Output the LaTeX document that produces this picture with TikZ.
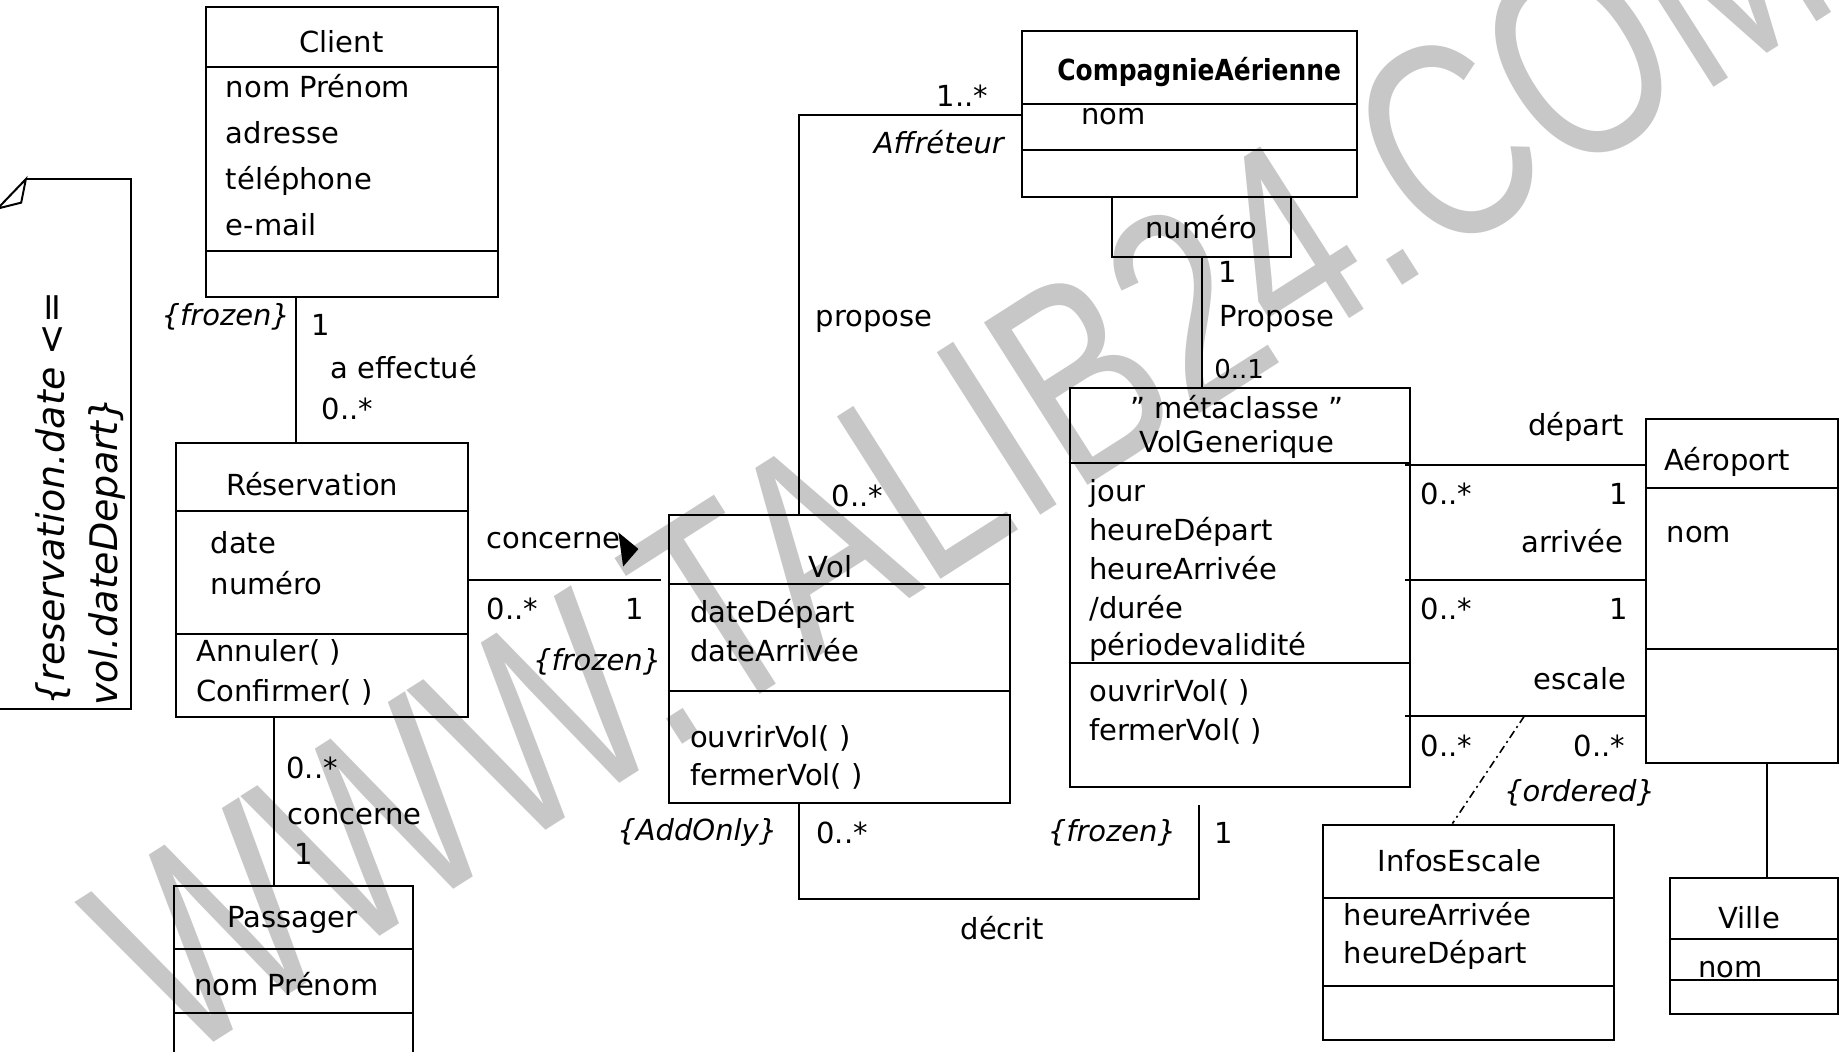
\documentclass[tikz,border=0pt]{standalone}
\usepackage{fontspec}
\setmainfont{DejaVu Sans}
\newfontfamily\wmfont{Liberation Sans}
\usetikzlibrary{fit}
\newcommand\umlfont{\fontsize{14.5}{19}\selectfont}
% horizontal compartment separator inside a class box
\newcommand\hsep[2]{\draw (#1.west |- 0,#2) -- (#1.east |- 0,#2);}
\begin{document}
\begin{tikzpicture}[x=0.589pt,y=-0.589pt,line width=1pt,
  every node/.style={inner sep=0pt,font=\umlfont},
  cls/.style={draw,fit={#1}},
  attr/.style={anchor=mid west,yshift=-2.4pt},
  itl/.style={font=\umlfont\itshape}]
\clip (0,0) rectangle (1568,893);
\fill[white] (0,0) rectangle (1568,893);

% background watermark
\node[rotate=32.5,anchor=base west,text=black!22,
      font=\wmfont\fontsize{140}{140}\selectfont] (wm) at (150,905)
  {\scalebox{0.745}[1]{WWW.TALIB24.COM}};

% ---------- constraint note ----------
\draw (22,152) -- (111,152) -- (111,602) -- (-5,602);
\draw (22,152) -- (18,172) -- (-2,177) -- cycle;
\node[rotate=90,anchor=north west,align=left,
      font=\fontsize{19}{26.5}\selectfont\itshape] (note) at (29,600)
  {\{reservation.date <=\\vol.dateDepart\}};

% ---------- Client ----------
\node[cls={(175,6)(423,252)}] (client) {};
\hsep{client}{57} \hsep{client}{213}
\node (clientn) at (290,35) {Client};
\node[attr] (cl1) at (191,74) {nom Prénom};
\node[attr] (cl2) at (191,113) {adresse};
\node[attr] (cl3) at (191,152) {téléphone};
\node[attr] (cl4) at (191,191) {e-mail};

% ---------- Réservation ----------
\node[cls={(149,376)(397,609)}] (resa) {};
\hsep{resa}{434} \hsep{resa}{538}
\node (resan) at (265,411) {Réservation};
\node[attr] (re1) at (178,461) {date};
\node[attr] (re2) at (178,496) {numéro};
\node[attr] (re3) at (166,553) {Annuler( )};
\node[attr] (re4) at (166,587) {Confirmer( )};

% ---------- Passager ----------
\node[cls={(148,752)(351,910)}] (pass) {};
\hsep{pass}{806} \hsep{pass}{860}
\node (passn) at (248,781) {Passager};
\node[attr] (pa1) at (164,836) {nom Prénom};

% ---------- Vol ----------
\node[cls={(568,437)(857,682)}] (vol) {};
\hsep{vol}{496} \hsep{vol}{587}
\node (voln) at (705,481) {Vol};
\node[attr] (vo1) at (585,520) {dateDépart};
\node[attr] (vo2) at (585,553) {dateArrivée};
\node[attr] (vo3) at (585,626) {ouvrirVol( )};
\node[attr] (vo4) at (585,658) {fermerVol( )};

% ---------- CompagnieAérienne + qualifier ----------
\node[cls={(868,26)(1152,167)}] (comp) {};
\hsep{comp}{88} \hsep{comp}{127}
\node[font=\umlfont\bfseries] (compn) at (1018,61) {\scalebox{0.86}[1]{CompagnieAérienne}};
\node[attr] (co1) at (917,97) {nom};
\node[cls={(944,167)(1096,218)}] (num) {};
\node (numn) at (1020,193) {numéro};

% ---------- VolGenerique ----------
\node[cls={(908,329)(1197,668)}] (vg) {};
\hsep{vg}{393} \hsep{vg}{563}
\node (vgs) at (1050,346) {" métaclasse "};
\node (vgn) at (1050,377) {VolGenerique};
\node[attr] (vg1) at (924,417) {jour};
\node[attr] (vg2) at (924,450) {heureDépart};
\node[attr] (vg3) at (924,483) {heureArrivée};
\node[attr] (vg4) at (924,516) {/durée};
\node[attr] (vg5) at (924,548) {périodevalidité};
\node[attr] (vg6) at (924,587) {ouvrirVol( )};
\node[attr] (vg7) at (924,620) {fermerVol( )};

% ---------- Aéroport ----------
\node[cls={(1397,356)(1560,648)}] (aero) {};
\hsep{aero}{414} \hsep{aero}{551}
\node (aeron) at (1466,392) {Aéroport};
\node[attr] (ae1) at (1414,452) {nom};

% ---------- InfosEscale ----------
\node[cls={(1123,700)(1370,883)}] (infos) {};
\hsep{infos}{762} \hsep{infos}{837}
\node (infosn) at (1239,731) {InfosEscale};
\node[attr] (in1) at (1140,777) {heureArrivée};
\node[attr] (in2) at (1140,809) {heureDépart};

% ---------- Ville ----------
\node[cls={(1418,745)(1560,861)}] (ville) {};
\hsep{ville}{797} \hsep{ville}{832}
\node (villen) at (1485,779) {Ville};
\node[attr] (vi1) at (1441,821) {nom};

% ---------- associations ----------
% Client -- Réservation
\draw (client.south -| 251,0) -- (resa.north -| 251,0);
\node[itl,anchor=mid east] (l1) at (247,272) {\{frozen\}};
\node (l2) at (272,276) {1};
\node (l3) at (343,312) {a effectué};
\node (l4) at (295,347) {0..*};

% Réservation -- Vol
\draw[shorten >=3.5pt] (resa.east |- 0,492) -- (vol.west |- 0,492);
\node (l5) at (470,459) {concerne};
\fill (525,452) -- (542,466) -- (529,481) -- cycle;
\node (l6) at (435,517) {0..*};
\node (l7) at (539,517) {1};
\node[itl] (l8) at (507,562) {\{frozen\}};

% Réservation -- Passager
\draw (resa.south -| 233,0) -- (pass.north -| 233,0);
\node (l9) at (265,652) {0..*};
\node (l10) at (301,693) {concerne};
\node (l11) at (258,725) {1};

% Vol -- CompagnieAérienne
\draw (vol.north -| 678,0) |- (comp.west |- 0,98);
\node (l12) at (817,81) {1..*};
\node[itl] (l13) at (797,121) {Affréteur};
\node (l14) at (742,273) {propose};
\node (l15) at (728,421) {0..*};

% numéro -- VolGenerique
\draw (num.south -| 1020,0) -- (vg.north -| 1020,0);
\node (l16) at (1042,231) {1};
\node (l17) at (1084,271) {Propose};
\node[font=\fontsize{13}{15}\selectfont] (l18) at (1052,313) {0..1};

% Vol -- VolGenerique (décrit)
\coordinate (vgend) at (1018,683);
\draw (vol.south -| 678,0) -- (678,763) -| (vgend);
\node[itl] (l19) at (592,707) {\{AddOnly\}};
\node (l20) at (715,707) {0..*};
\node[itl] (l21) at (944,707) {\{frozen\}};
\node (l22) at (1039,707) {1};
\node (l23) at (851,788) {décrit};

% VolGenerique -- Aéroport (départ, arrivée, escale)
\draw ([xshift=-3pt]vg.east |- 0,395) -- (aero.west |- 0,395);
\draw ([xshift=-3pt]vg.east |- 0,492) -- (aero.west |- 0,492);
\draw ([xshift=-3pt]vg.east |- 0,608) -- (aero.west |- 0,608);
\node (l24) at (1338,362) {départ};
\node (l25) at (1228,419) {0..*};
\node (l26) at (1374,419) {1};
\node (l27) at (1335,459) {arrivée};
\node (l28) at (1228,517) {0..*};
\node (l29) at (1374,517) {1};
\node (l30) at (1341,576) {escale};
\node (l31) at (1228,633) {0..*};
\node (l32) at (1358,633) {0..*};
\node[itl] (l33) at (1341,673) {\{ordered\}};

% association class link
\coordinate (esc) at (1294,608);
\draw[line width=0.8pt,dash pattern=on 4pt off 2pt on 1pt off 2pt] (esc) -- (infos.north -| 1233,0);

% Aéroport -- Ville
\draw (aero.south -| 1500,0) -- (ville.north -| 1500,0);
\end{tikzpicture}
\end{document}
